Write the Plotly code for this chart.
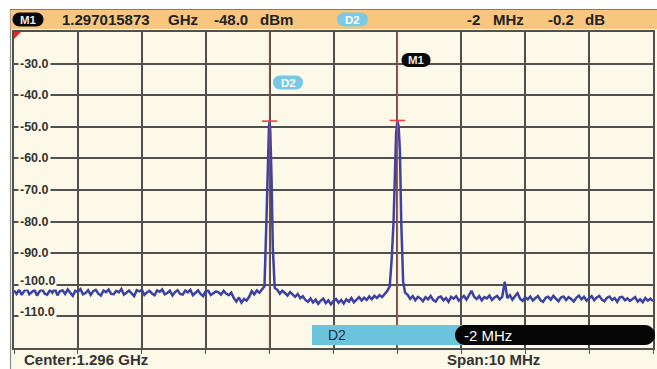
import numpy as np
import plotly.graph_objects as go

W, H = 657, 369

# ---------------- data ----------------
center_ghz = 1.296
span_mhz = 10
f_start, f_stop = 1291.0, 1301.0          # MHz
ref_top, ref_bottom = -20, -120            # dBm
y_tick_vals = [-30, -40, -50, -60, -70, -80, -90, -100, -110]

# noise floor left of D2 (1291.00 .. 1294.88 MHz, 0.04 MHz steps)
noise_a_start, noise_a_stop = 1291.00, 1294.88
noise_a = [
    -101.8, -102.9, -101.5, -103.2, -102.0, -101.3, -103.0, -102.4, -101.6, -103.4,
    -102.1, -101.4, -102.8, -103.1, -101.7, -102.5, -101.2, -103.3, -102.0, -101.8,
    -102.9, -101.5, -102.6, -103.5, -101.9, -102.2, -101.4, -103.0, -102.6, -101.7,
    -103.2, -102.0, -101.6, -102.8, -103.4, -101.8, -102.3, -101.5, -102.9, -103.0,
    -101.9, -102.4, -101.3, -103.1, -102.5, -101.8, -102.7, -103.6, -101.7, -102.1,
    -101.6, -103.2, -102.4, -101.9, -102.8, -103.3, -101.8, -102.2, -101.5, -103.0,
    -102.6, -101.9, -103.4, -102.3, -101.7, -102.9, -103.1, -101.8, -102.4, -101.6,
    -103.3, -102.5, -101.8, -102.9, -103.6, -102.0, -101.9, -103.2, -102.7, -102.1,
    -102.4, -103.1, -101.9, -102.8, -103.3, -102.5,
    -104.2, -105.3, -104.0, -105.6, -104.5, -105.0,
    -103.8,
    -102.0, -103.0, -101.8, -102.5, -101.3,
]

# D2 carrier
peak_d2_freq = [1294.92, 1294.95, 1294.97, 1294.99, 1295.00, 1295.01, 1295.03, 1295.05, 1295.08]
peak_d2_level = [-100.5, -80.0, -60.0, -50.0, -48.2, -51.0, -66.0, -88.0, -101.0]

# noise floor between D2 and M1 (1295.12 .. 1296.84 MHz)
noise_b_start, noise_b_stop = 1295.12, 1296.84
noise_b = [
    -101.6, -102.8, -101.9, -102.6, -103.4, -102.3, -103.1, -103.8, -102.9, -104.2,
    -103.6, -104.8, -105.4, -104.3, -105.6, -104.7, -106.0, -105.0, -104.4, -105.8,
    -104.9, -106.2, -105.1, -104.5, -105.7, -104.8, -105.9, -104.6, -105.3, -104.2,
    -105.5, -104.7, -103.9, -105.0, -104.1, -104.8, -103.7, -104.5, -103.5, -104.2,
    -103.3, -103.9, -102.8, -102.0,
]

# M1 carrier
peak_m1_freq = [1296.88, 1296.91, 1296.94, 1296.96, 1296.98, 1297.00, 1297.02, 1297.04, 1297.06, 1297.09, 1297.12]
peak_m1_level = [-100.5, -92.0, -80.0, -62.0, -52.0, -48.0, -50.0, -58.0, -80.0, -99.0, -102.5]

# noise floor right of M1 (1297.16 .. 1301.00 MHz)
noise_c_start, noise_c_stop = 1297.16, 1301.00
noise_c = [
    -103.2, -104.5, -103.6, -104.9, -103.8, -104.3, -105.2, -103.9, -104.6, -103.5,
    -104.8, -105.3, -104.0, -103.7, -104.9, -104.2, -105.4, -103.8, -104.4, -103.6,
    -105.0, -104.1, -103.5, -104.7, -103.4, -101.9, -103.8, -104.5, -103.6, -104.9,
    -103.9, -104.3, -103.4, -104.8, -104.0, -103.5, -104.6, -103.8, -99.0, -104.2,
    -103.3, -104.7, -103.6, -102.6, -104.4, -105.1, -103.9, -104.6, -103.7, -105.0,
    -104.2, -103.6, -104.9, -105.4, -104.1, -103.8, -104.7, -103.5, -104.4, -105.2,
    -104.0, -103.7, -104.8, -103.9, -104.5, -105.3, -104.1, -103.4, -104.6, -103.8,
    -105.0, -104.3, -103.6, -104.9, -104.0, -103.5, -104.7, -105.2, -104.1, -103.7,
    -104.8, -104.2, -105.4, -104.0, -103.8, -104.9, -104.3, -105.1, -104.4, -103.9,
    -105.3, -104.6, -105.5, -104.2, -105.0, -104.4, -105.2,
]

m1_freq, m1_level = 1297.0, -48.0
d2_freq, d2_level = 1295.0, -48.2
header_tokens = [("1.297015873", 60), ("GHz", 166), ("-48.0", 212), ("dBm", 258),
                 ("-2", 465), ("MHz", 491), ("-0.2", 546), ("dB", 583)]
center_label = "Center:1.296 GHz"
span_label = "Span:10 MHz"
delta_label = "-2 MHz"

# ---------------- build trace ----------------
xa = np.linspace(noise_a_start, noise_a_stop, len(noise_a))
xb = np.linspace(noise_b_start, noise_b_stop, len(noise_b))
xc = np.linspace(noise_c_start, noise_c_stop, len(noise_c))
fx = np.concatenate([xa, peak_d2_freq, xb, peak_m1_freq, xc])
fy = np.concatenate([noise_a, peak_d2_level, noise_b, peak_m1_level, noise_c])

CREAM = "#FDF9E8"
GRID = "#505050"
FONT = "Liberation Sans, Arial, sans-serif"

fig = go.Figure()
fig.add_trace(go.Scatter(x=fx, y=fy, mode="lines",
                         line=dict(color="#3C41A4", width=2.5),
                         hoverinfo="skip", showlegend=False))


def px(x):
    return x / W


def py(y):
    return 1 - y / H


def pill(cx, cy, w, h, color):
    r = h / 2
    a = -w / 2 + r
    b = w / 2 - r
    k = 0.55 * r
    path = (f"M {a},{-r} L {b},{-r} C {b+k},{-r} {b+r},{-k} {b+r},0 "
            f"C {b+r},{k} {b+k},{r} {b},{r} L {a},{r} "
            f"C {a-k},{r} {a-r},{k} {a-r},0 C {a-r},{-k} {a-k},{-r} {a},{-r} Z")
    return dict(type="path", xref="paper", yref="paper", xsizemode="pixel",
                ysizemode="pixel", xanchor=px(cx), yanchor=py(cy), path=path,
                fillcolor=color, line=dict(width=0), layer="above")


shapes = []
# panel background
shapes.append(dict(type="rect", xref="paper", yref="paper", x0=px(10), x1=1,
                   y0=0, y1=py(9), fillcolor=CREAM, line=dict(width=0), layer="below"))
# left panel border
shapes.append(dict(type="line", xref="paper", yref="paper", x0=px(10.5), x1=px(10.5),
                   y0=0, y1=py(9), line=dict(color="#8a8a8a", width=1.2), layer="below"))
# header bar
shapes.append(dict(type="rect", xref="paper", yref="paper", x0=px(10.5), x1=1,
                   y0=py(29), y1=py(9.5), fillcolor="#F8C67F",
                   line=dict(width=0), layer="below"))
shapes.append(dict(type="line", xref="paper", yref="paper", x0=px(10), x1=1,
                   y0=py(9.5), y1=py(9.5), line=dict(color="#7a7a7a", width=1.2), layer="below"))

# marker lines
shapes.append(dict(type="line", xref="x", yref="y", x0=d2_freq, x1=d2_freq,
                   y0=ref_bottom - 1, y1=ref_top, line=dict(color="#8E4A3A", width=1.4),
                   layer="above"))
shapes.append(dict(type="line", xref="x", yref="y", x0=m1_freq, x1=m1_freq,
                   y0=ref_bottom - 1, y1=ref_top, line=dict(color="#C94A3C", width=1.4),
                   layer="above"))
# peak marks
for f, l in [(d2_freq, d2_level), (m1_freq, m1_level)]:
    shapes.append(dict(type="line", xref="x", yref="y", x0=f - 0.12, x1=f + 0.12,
                       y0=l, y1=l, line=dict(color="#E8463A", width=1.6), layer="above"))
# red corner triangle
shapes.append(dict(type="path", xref="x", yref="y",
                   path=f"M {f_start},{ref_top} L {f_start + 0.11},{ref_top} L {f_start},{ref_top - 2.2} Z",
                   fillcolor="#E02A1E", line=dict(width=0), layer="above"))

# bottom delta band
shapes.append(dict(type="rect", xref="paper", yref="paper", x0=px(312), x1=px(620),
                   y0=py(345), y1=py(325), fillcolor="#6CC4DC", line=dict(width=0),
                   layer="above"))
shapes.append(pill(555, 335, 200, 20, "#050505"))
# pills
shapes.append(pill(28, 19.5, 31, 14, "#0a0a0a"))
shapes.append(pill(352.5, 19.5, 31, 14, "#7CC9E6"))
shapes.append(pill(288, 82.5, 30, 14, "#79C7E6"))
shapes.append(pill(416, 60, 29, 14, "#0a0a0a"))

ann = []
for v in y_tick_vals:
    ann.append(dict(xref="paper", yref="y", x=px(18), y=v, xanchor="left", yanchor="middle",
                    text=f"<b>{v:.1f}</b>", showarrow=False, bgcolor=CREAM, borderpad=1,
                    yshift=4 if v <= -100 else 0,
                    font=dict(family=FONT, size=12.5, color="#333333")))
for t, x in header_tokens:
    ann.append(dict(xref="paper", yref="paper", x=px(x), y=py(19.5), xanchor="left",
                    yanchor="middle", text=f"<b>{t}</b>", showarrow=False,
                    font=dict(family=FONT, size=15, color="#222222")))
for t, x, y in [("M1", 28, 19.5), ("M1", 416, 60)]:
    ann.append(dict(xref="paper", yref="paper", x=px(x), y=py(y), xanchor="center",
                    yanchor="middle", text=f"<b>{t}</b>", showarrow=False,
                    font=dict(family=FONT, size=11.5, color="#e8e8e8")))
for t, x, y in [("D2", 352.5, 19.5), ("D2", 288, 82.5)]:
    ann.append(dict(xref="paper", yref="paper", x=px(x), y=py(y), xanchor="center",
                    yanchor="middle", text=f"<b>{t}</b>", showarrow=False,
                    font=dict(family=FONT, size=11.5, color="#ffffff")))
ann.append(dict(xref="paper", yref="paper", x=px(326), y=py(335), xanchor="left",
                yanchor="middle", text="D2", showarrow=False,
                font=dict(family=FONT, size=14, color="#1c2a44")))
ann.append(dict(xref="paper", yref="paper", x=px(462), y=py(335), xanchor="left",
                yanchor="middle", text=delta_label, showarrow=False,
                font=dict(family=FONT, size=15, color="#ffffff")))
ann.append(dict(xref="paper", yref="paper", x=px(22), y=py(359), xanchor="left",
                yanchor="middle", text=f"<b>{center_label}</b>", showarrow=False,
                font=dict(family=FONT, size=15, color="#333333")))
ann.append(dict(xref="paper", yref="paper", x=px(445), y=py(359), xanchor="left",
                yanchor="middle", text=f"<b>{span_label}</b>", showarrow=False,
                font=dict(family=FONT, size=15, color="#333333")))

fig.update_layout(
    width=W, height=H, margin=dict(l=0, r=0, t=0, b=0),
    paper_bgcolor="white", plot_bgcolor="rgba(0,0,0,0)",
    shapes=shapes, annotations=ann, showlegend=False,
    xaxis=dict(domain=[px(14), px(653)], range=[f_start, f_stop], tick0=f_start,
               dtick=span_mhz / 10, showgrid=True, gridcolor=GRID, gridwidth=1.7,
               showline=True, linecolor=GRID, linewidth=1.7, mirror=True,
               ticks="outside", ticklen=4, tickcolor=GRID, tickwidth=1.2,
               showticklabels=False, zeroline=False, fixedrange=True),
    yaxis=dict(domain=[1 - 348 / H, 1 - 32 / H], range=[ref_bottom, ref_top],
               dtick=10, showgrid=True, gridcolor=GRID, gridwidth=1.7,
               showline=True, linecolor=GRID, linewidth=1.7, mirror=True,
               ticks="", showticklabels=False, zeroline=False, fixedrange=True),
)

fig.write_html("out.html")
